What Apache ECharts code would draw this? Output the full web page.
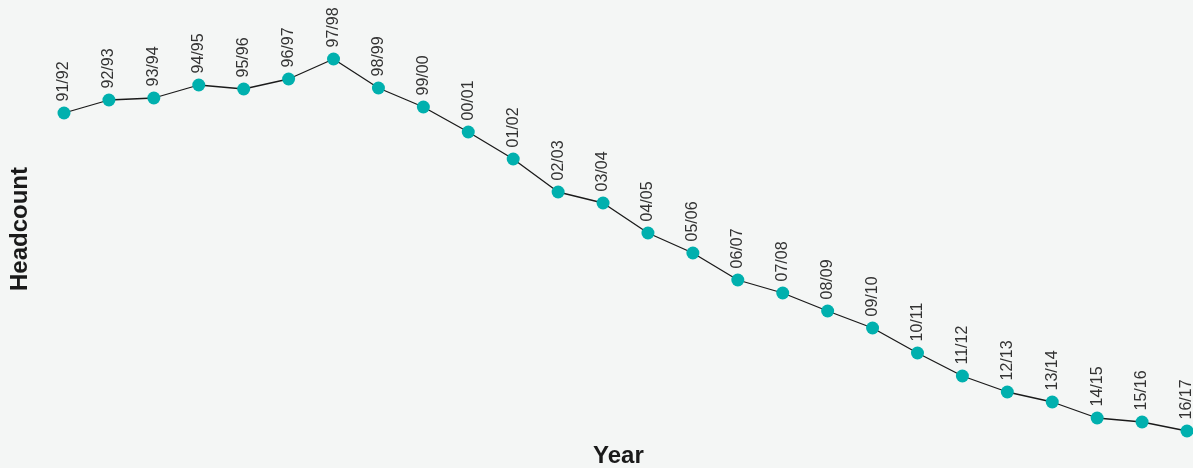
<!DOCTYPE html>
<html>
<head>
<meta charset="utf-8">
<script src="https://cdn.jsdelivr.net/npm/echarts@6/dist/echarts.min.js"></script>
<style>
html,body{margin:0;padding:0;background:#f4f6f5;}
#chart{width:1193px;height:468px;}
</style>
</head>
<body>
<div id="chart"></div>
<script>
const years = ['91/92','92/93','93/94','94/95','95/96','96/97','97/98','98/99','99/00','00/01','01/02','02/03','03/04','04/05','05/06','06/07','07/08','08/09','09/10','10/11','11/12','12/13','13/14','14/15','15/16','16/17'];
const headcount = [337,350,352,365,361,371,391,362,343,318,291,258,247,217,197,170,157,139,122,97,74,58,48,32,28,19];
const xTitle = 'Year';
const yTitle = 'Headcount';

const chart = echarts.init(document.getElementById('chart'));
chart.setOption({
  backgroundColor: '#f4f6f5',
  animation: false,
  grid: {left: 64, right: 6, top: 0, bottom: 18},
  xAxis: {
    type: 'category', data: years, boundaryGap: false,
    axisLine: {show: false}, axisTick: {show: false}, axisLabel: {show: false}, splitLine: {show: false}
  },
  yAxis: {
    type: 'value', min: 0, max: 450,
    axisLine: {show: false}, axisTick: {show: false}, axisLabel: {show: false}, splitLine: {show: false}
  },
  graphic: [
    {type: 'text', left: 593, top: 444, style: {text: xTitle, font: 'bold 24px "Liberation Sans", Arial, sans-serif', fill: '#1a1a1a'}},
    {type: 'text', x: 8, y: 291, rotation: Math.PI / 2, style: {text: yTitle, font: 'bold 24px "Liberation Sans", Arial, sans-serif', fill: '#1a1a1a', align: 'left', verticalAlign: 'top'}}
  ],
  series: [{
    type: 'line', data: headcount, clip: false,
    symbol: 'circle', symbolSize: 13,
    itemStyle: {color: '#00b0ae'},
    lineStyle: {color: '#1a1a1a', width: 1.3},
    label: {
      show: true, position: 'top', distance: 5, rotate: 90,
      align: 'left', verticalAlign: 'middle',
      formatter: p => years[p.dataIndex],
      color: '#333', fontSize: 16, fontFamily: '"Liberation Sans", Arial, sans-serif'
    }
  }]
});
</script>
</body>
</html>
